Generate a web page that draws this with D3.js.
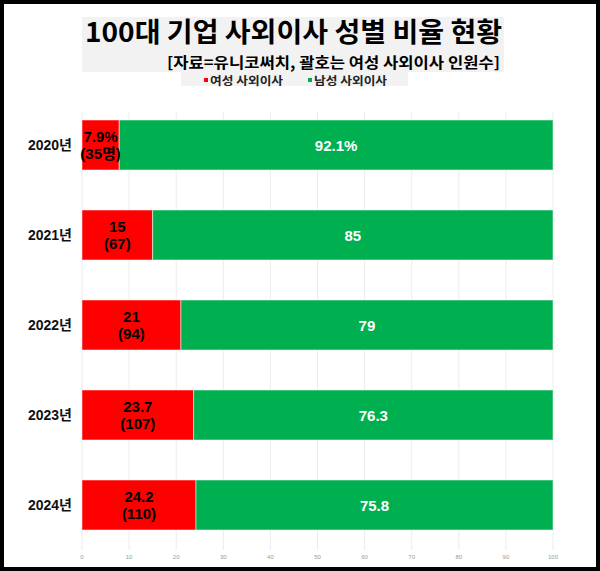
<!DOCTYPE html>
<html>
<head>
<meta charset="utf-8">
<script src="https://cdn.jsdelivr.net/npm/d3@7"></script>
<style>
  body { margin: 0; background: #fff; }
  svg { display: block; font-family: "Liberation Sans", "Noto Sans CJK KR", sans-serif; }
</style>
</head>
<body>
<div id="chart"></div>
<script>
// Data
var years = ["2020년", "2021년", "2022년", "2023년", "2024년"];
var femaleShare = [7.9, 15, 21, 23.7, 24.2];
var maleShare = [92.1, 85, 79, 76.3, 75.8];
var femaleCount = [35, 67, 94, 107, 110];
var xTicks = [0, 10, 20, 30, 40, 50, 60, 70, 80, 90, 100];

var width = 600,
    height = 571;

var svg = d3.select("#chart")
    .append("svg")
    .attr("width", width)
    .attr("height", height);

// Outer black frame
svg.append("rect")
    .attr("x", 2).attr("y", 2)
    .attr("width", width - 4).attr("height", height - 4)
    .attr("fill", "none")
    .attr("stroke", "#000")
    .attr("stroke-width", 4);

// Scales
var x = d3.scaleLinear().domain([0, 100]).range([82, 553]);
var y = d3.scaleBand()
    .domain(years)
    .range([100, 550])
    .paddingInner(40 / 90)
    .paddingOuter(20 / 90);

// Gridlines
svg.selectAll(".grid")
    .data(xTicks)
    .enter()
    .append("line")
    .attr("class", "grid")
    .attr("x1", d => x(d)).attr("x2", d => x(d))
    .attr("y1", 112).attr("y2", 550)
    .attr("stroke", "#ececec")
    .attr("stroke-width", 1);

// Tick labels
svg.selectAll(".tick-label")
    .data(xTicks)
    .enter()
    .append("text")
    .attr("class", "tick-label")
    .attr("x", d => x(d))
    .attr("y", 559)
    .attr("text-anchor", "middle")
    .style("font-size", "6px")
    .style("fill", "#999")
    .text(d => d);

// Rows of data
var rows = years.map(function (yr, i) {
    return { year: yr, f: femaleShare[i], m: maleShare[i], n: femaleCount[i], i: i };
});

// Female bars (red)
svg.selectAll(".bar-f")
    .data(rows)
    .enter()
    .append("rect")
    .attr("class", "bar-f")
    .attr("x", x(0))
    .attr("y", d => y(d.year))
    .attr("width", d => x(d.f) - x(0))
    .attr("height", y.bandwidth())
    .attr("fill", "#ff0000")
    .attr("stroke", "#fff")
    .attr("stroke-opacity", 0.5)
    .attr("stroke-width", 1);

// Male bars (green)
svg.selectAll(".bar-m")
    .data(rows)
    .enter()
    .append("rect")
    .attr("class", "bar-m")
    .attr("x", d => x(d.f))
    .attr("y", d => y(d.year))
    .attr("width", d => x(d.f + d.m) - x(d.f))
    .attr("height", y.bandwidth())
    .attr("fill", "#00b050")
    .attr("stroke", "#fff")
    .attr("stroke-opacity", 0.5)
    .attr("stroke-width", 1);

// Year labels
svg.selectAll(".year")
    .data(rows)
    .enter()
    .append("text")
    .attr("class", "year")
    .attr("x", 72)
    .attr("y", d => y(d.year) + y.bandwidth() / 2 + 5)
    .attr("text-anchor", "end")
    .style("font-size", "14px")
    .style("font-weight", "bold")
    .style("fill", "#111")
    .text(d => d.year);

// Female labels: share on top, head count below
svg.selectAll(".lab-f1")
    .data(rows)
    .enter()
    .append("text")
    .attr("class", "lab-f1")
    .attr("x", d => (x(0) + x(d.f)) / 2)
    .attr("y", d => y(d.year) + y.bandwidth() / 2 - 3.5)
    .attr("text-anchor", "middle")
    .style("font-size", "15px")
    .style("font-weight", "bold")
    .style("fill", "#000")
    .text(d => d.i === 0 ? d.f + "%" : d.f);

svg.selectAll(".lab-f2")
    .data(rows)
    .enter()
    .append("text")
    .attr("class", "lab-f2")
    .attr("x", d => (x(0) + x(d.f)) / 2)
    .attr("y", d => y(d.year) + y.bandwidth() / 2 + 13.5)
    .attr("text-anchor", "middle")
    .style("font-size", "15px")
    .style("font-weight", "bold")
    .style("fill", "#000")
    .text(d => d.i === 0 ? "(" + d.n + "명)" : "(" + d.n + ")");

// Male labels
svg.selectAll(".lab-m")
    .data(rows)
    .enter()
    .append("text")
    .attr("class", "lab-m")
    .attr("x", d => (x(d.f) + x(d.f + d.m)) / 2)
    .attr("y", d => y(d.year) + y.bandwidth() / 2 + 5.5)
    .attr("text-anchor", "middle")
    .style("font-size", "15px")
    .style("font-weight", "bold")
    .style("fill", "#fff")
    .text(d => d.i === 0 ? d.m + "%" : d.m);

// Title block
svg.append("rect")
    .attr("x", 82).attr("y", 17)
    .attr("width", 422).attr("height", 55)
    .attr("fill", "#f2f2f2");

svg.append("rect")
    .attr("x", 181).attr("y", 72)
    .attr("width", 227).attr("height", 14)
    .attr("fill", "#f2f2f2");

svg.append("text")
    .attr("x", 85)
    .attr("y", 42)
    .attr("textLength", 417)
    .attr("lengthAdjust", "spacingAndGlyphs")
    .style("font-family", "'Noto Sans CJK KR', sans-serif")
    .style("font-size", "27px")
    .style("font-weight", "bold")
    .style("fill", "#000")
    .text("100대 기업 사외이사 성별 비율 현황");

svg.append("text")
    .attr("x", 167)
    .attr("y", 67.5)
    .attr("textLength", 333)
    .attr("lengthAdjust", "spacingAndGlyphs")
    .style("font-family", "'Noto Sans CJK KR', sans-serif")
    .style("font-size", "15px")
    .style("font-weight", "bold")
    .style("fill", "#000")
    .text("[자료=유니코써치, 괄호는 여성 사외이사 인원수]");

// Legend
var legend = [
    { label: "여성 사외이사", color: "#ff0000", x: 204 },
    { label: "남성 사외이사", color: "#00b050", x: 308 }
];
var lg = svg.selectAll(".legend")
    .data(legend)
    .enter()
    .append("g")
    .attr("class", "legend")
    .attr("transform", d => "translate(" + d.x + ",85)");

lg.append("rect")
    .attr("x", 0).attr("y", -7)
    .attr("width", 4).attr("height", 4)
    .attr("fill", d => d.color);

lg.append("text")
    .attr("x", 6)
    .attr("y", 0)
    .attr("textLength", 73)
    .attr("lengthAdjust", "spacingAndGlyphs")
    .style("font-family", "'Noto Sans CJK KR', sans-serif")
    .style("font-size", "11px")
    .style("font-weight", "bold")
    .style("fill", "#222")
    .text(d => d.label);
</script>
</body>
</html>
